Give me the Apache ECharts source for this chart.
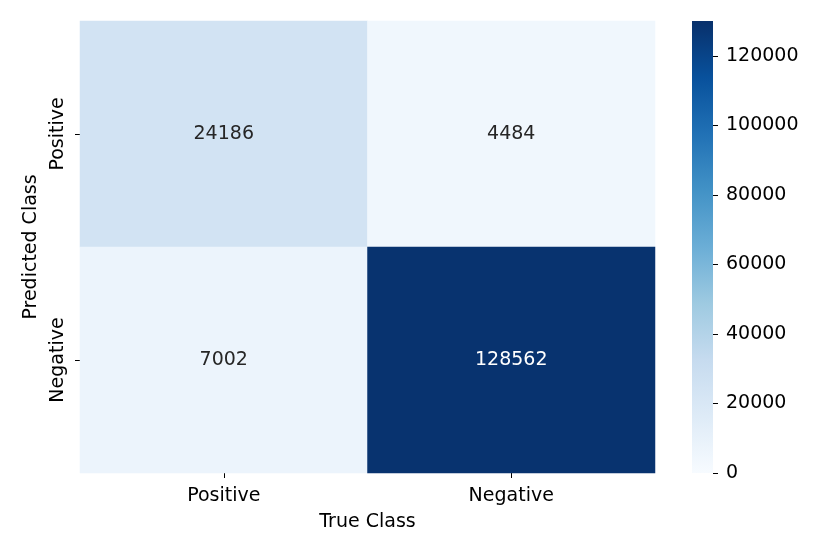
<!DOCTYPE html>
<html>
<head>
<meta charset="utf-8">
<script src="https://cdn.jsdelivr.net/npm/echarts@6/dist/echarts.min.js"></script>
<style>
  html, body { margin: 0; padding: 0; background: #fff; }
  #chart { width: 830px; height: 554px; }
</style>
</head>
<body>
<div id="chart"></div>
<script>
  // confusion matrix values
  var trueClasses = ['Positive', 'Negative'];
  var predictedClasses = ['Negative', 'Positive']; // bottom to top
  var rowPositive = [24186, 4484];
  var rowNegative = [7002, 128562];
  var colorbarTicks = [0, 20000, 40000, 60000, 80000, 100000, 120000];
  var colorMax = 130000;

  var blues = ['#f7fbff', '#deebf7', '#c6dbef', '#9ecae1', '#6baed6',
               '#4292c6', '#2171b5', '#08519c', '#08306b'];

  var cells = [];
  rowPositive.forEach(function (v, i) { cells.push([i, 1, v]); });
  rowNegative.forEach(function (v, i) { cells.push([i, 0, v]); });

  // colorbar gradient, bottom (0) to top (max)
  var barStops = blues.map(function (c, i) {
    return { offset: i / (blues.length - 1), color: c };
  });

  var myChart = echarts.init(document.getElementById('chart'), null, { renderer: 'canvas' });
  myChart.setOption({
    animation: false,
    backgroundColor: '#fff',
    textStyle: { fontFamily: 'DejaVu Sans' },
    grid: [
      { left: 80, top: 21, width: 575, height: 452 },
      {
        left: 692, top: 21, width: 21, height: 452,
        show: true, borderWidth: 0,
        backgroundColor: new echarts.graphic.LinearGradient(0, 1, 0, 0, barStops)
      }
    ],
    xAxis: [{
      gridIndex: 0,
      type: 'category',
      data: trueClasses,
      name: 'True Class',
      nameLocation: 'middle',
      nameGap: 40,
      nameTextStyle: { fontSize: 19, color: '#000' },
      axisLine: { show: false },
      axisTick: { show: true, alignWithLabel: true, length: 5, lineStyle: { color: '#000' } },
      axisLabel: { fontSize: 19, color: '#000', margin: 14 },
      splitLine: { show: false }
    }, {
      gridIndex: 1,
      type: 'value',
      show: false
    }],
    yAxis: [{
      gridIndex: 0,
      type: 'category',
      data: predictedClasses,
      name: 'Predicted Class',
      nameLocation: 'middle',
      nameRotate: 90,
      nameGap: 39,
      nameTextStyle: { fontSize: 19, color: '#000' },
      axisLine: { show: false },
      axisTick: { show: true, alignWithLabel: true, length: 5, lineStyle: { color: '#000' } },
      axisLabel: { fontSize: 19, color: '#000', rotate: 90, margin: 12 },
      splitLine: { show: false }
    }, {
      gridIndex: 1,
      type: 'value',
      position: 'right',
      min: 0,
      max: colorMax,
      interval: colorbarTicks[1] - colorbarTicks[0],
      axisLine: { show: false, onZero: false },
      axisTick: { show: true, length: 5, lineStyle: { color: '#000' } },
      axisLabel: {
        fontSize: 19, color: '#000', margin: 13, showMaxLabel: false,
        formatter: function (v) { return String(v); }
      },
      splitLine: { show: false }
    }],
    visualMap: {
      type: 'continuous',
      show: false,
      seriesIndex: 0,
      min: 0,
      max: colorMax,
      inRange: { color: blues }
    },
    series: [{
      type: 'heatmap',
      xAxisIndex: 0,
      yAxisIndex: 0,
      data: cells.map(function (c) {
        return {
          value: c,
          label: { color: c[2] > colorMax / 2 ? '#fff' : '#262626' }
        };
      }),
      label: { show: true, fontSize: 19, fontFamily: 'DejaVu Sans' },
      itemStyle: { borderWidth: 0 },
      emphasis: { disabled: true }
    }, {
      type: 'scatter',
      xAxisIndex: 1,
      yAxisIndex: 1,
      data: []
    }]
  });
</script>
</body>
</html>
